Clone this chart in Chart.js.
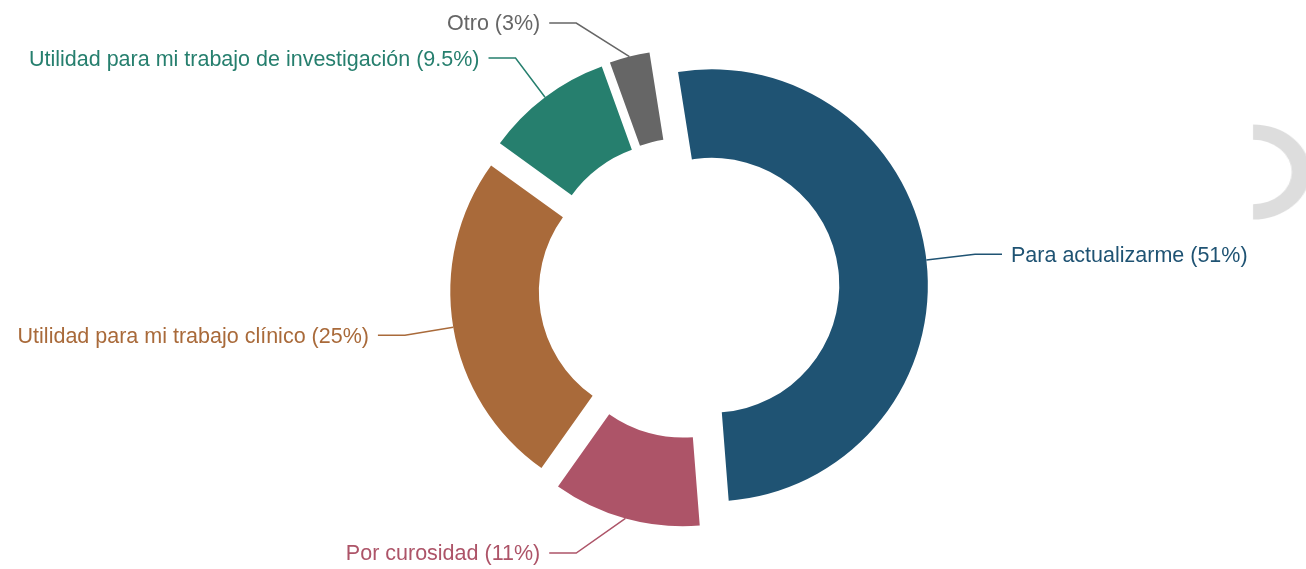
<!DOCTYPE html>
<html>
<head>
<meta charset="utf-8">
<script src="https://cdn.jsdelivr.net/npm/chart.js@4.4.1/dist/chart.umd.min.js"></script>
<style>
  html, body { margin: 0; padding: 0; background: #fff; overflow: hidden; }
  #wrap { position: relative; width: 1306px; height: 569px; overflow: hidden; }
  #chart { position: absolute; left: 0; top: 0; }
  #spinner { position: absolute; left: 1193px; top: 122px; }
</style>
</head>
<body>
<div id="wrap">
  <canvas id="chart" width="1306" height="569"></canvas>
  <canvas id="spinner" width="100" height="100" style="width:120px;height:100px"></canvas>
</div>
<script>
// Survey answers (percent of respondents)
const reasons = [
  "Para actualizarme",
  "Por curosidad",
  "Utilidad para mi trabajo clínico",
  "Utilidad para mi trabajo de investigación",
  "Otro"
];
const shares = [51, 11, 25, 9.5, 3];
const sliceColors = ["#1f5373", "#ad5468", "#a96a3a", "#267f6e", "#666666"];

// the grey half ring at the right edge
const spinnerValues = [1, 1];
const spinnerColors = ["#dddddd", "rgba(0,0,0,0)"];

const EXPLODE = 23;      // how far every slice is pulled out
const LABEL_RING = 288;  // connectors bend on this circle
const LABEL_TOP = 23;
const LABEL_BOTTOM = 16;

// pull slices out along their middle angle without growing them
const baseArcDraw = Chart.ArcElement.prototype.draw;
Chart.ArcElement.prototype.draw = function (ctx, area) {
  const explode = this.options.offset || 0;
  if (!explode) return baseArcDraw.call(this, ctx, area);
  const mid = (this.startAngle + this.endAngle) / 2;
  const flat = Object.create(this);
  flat.options = Object.assign({}, this.options, { offset: 0 });
  ctx.save();
  ctx.translate(Math.cos(mid) * explode, Math.sin(mid) * explode);
  baseArcDraw.call(flat, ctx, area);
  ctx.restore();
};

// labels with bent connector lines
const calloutLabels = {
  id: 'calloutLabels',
  afterDatasetsDraw(chart) {
    const ctx = chart.ctx;
    const meta = chart.getDatasetMeta(0);
    ctx.save();
    ctx.font = '21.5px "Liberation Sans", Arial, sans-serif';
    ctx.lineWidth = 1.5;
    ctx.textBaseline = 'middle';
    meta.data.forEach((arc, i) => {
      const mid = (arc.startAngle + arc.endAngle) / 2;
      const cos = Math.cos(mid), sin = Math.sin(mid);
      const ax = arc.x + cos * (EXPLODE + arc.outerRadius);
      const ay = arc.y + sin * (EXPLODE + arc.outerRadius);
      const side = cos >= 0 ? 1 : -1;
      let ly = arc.y + sin * LABEL_RING;
      ly = Math.min(Math.max(ly, LABEL_TOP), chart.height - LABEL_BOTTOM);
      const dy = ly - arc.y;
      const bx = arc.x + side * Math.sqrt(Math.max(LABEL_RING * LABEL_RING - dy * dy, 0));
      const ex = bx + side * 27;
      ctx.strokeStyle = sliceColors[i];
      ctx.beginPath();
      ctx.moveTo(ax, ay);
      ctx.lineTo(bx, ly);
      ctx.lineTo(ex, ly);
      ctx.stroke();
      ctx.fillStyle = sliceColors[i];
      ctx.textAlign = side > 0 ? 'left' : 'right';
      ctx.fillText(`${reasons[i]} (${shares[i]}%)`, ex + side * 9, ly + 1.5);
    });
    ctx.restore();
  }
};

new Chart(document.getElementById('chart'), {
  type: 'doughnut',
  data: {
    labels: reasons,
    datasets: [{
      data: shares,
      backgroundColor: sliceColors,
      borderWidth: 0,
      offset: EXPLODE
    }]
  },
  options: {
    responsive: false,
    animation: false,
    events: [],
    radius: 216,
    cutout: '59%',
    rotation: -9,
    layout: { padding: { left: 100, right: 28, top: 10, bottom: 3 } },
    plugins: { legend: { display: false }, tooltip: { enabled: false } }
  },
  plugins: [calloutLabels]
});

new Chart(document.getElementById('spinner'), {
  type: 'doughnut',
  data: {
    datasets: [{
      data: spinnerValues,
      backgroundColor: spinnerColors,
      borderWidth: 0
    }]
  },
  options: {
    responsive: false,
    animation: false,
    events: [],
    radius: 47.5,
    cutout: '68%',
    plugins: { legend: { display: false }, tooltip: { enabled: false } }
  }
});
</script>
</body>
</html>
